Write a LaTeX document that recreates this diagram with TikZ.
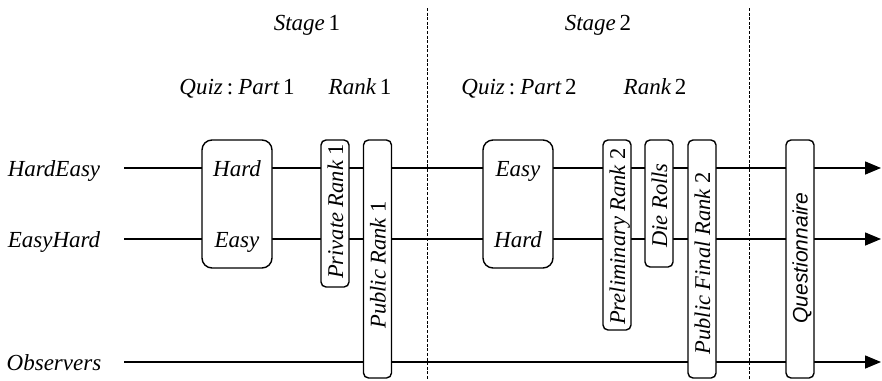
\documentclass[tikz,border=0pt]{standalone}
\usepackage{fontspec}
\setmainfont{Liberation Serif}
\newfontfamily\qfont{Liberation Sans}
\usetikzlibrary{arrows.meta}
\begin{document}
\begin{tikzpicture}[x=1pt,y=-1pt,
  every node/.style={inner sep=0pt,outer sep=0pt},
  lbl/.style={anchor=base,font=\fontsize{23}{27}\selectfont\itshape},
  vlbl/.style={anchor=base,rotate=90,font=\fontsize{22.5}{26}\selectfont\itshape},
  bigbox/.style={draw,line width=1.4pt,fill=white,rounded corners=10pt,minimum width=70pt,minimum height=128pt},
  thinbox/.style={draw,line width=1.4pt,fill=white,rounded corners=5pt,minimum width=28pt},
  arrowtrack/.style={line width=1.5pt,-{Triangle[length=16pt,width=13pt]}},
  divider/.style={line width=1pt,dash pattern=on 3pt off 1.6pt}
]
\useasboundingbox (0,0) rectangle (882,380);

% divider coordinates
\coordinate (d1t) at (427,8);
\coordinate (d1b) at (427,380);
\coordinate (d2t) at (749,8);
\coordinate (d2b) at (749,380);
\draw[divider] (d1t) -- (d1b);
\draw[divider] (d2t) -- (d2b);

% header labels
\node[lbl] (st1) at (307,30) {Stage\,\upshape 1};
\node[lbl] (st2) at (598,30) {Stage\,\upshape 2};
\node[lbl] (qp1) at (237,94) {Quiz\kern4pt{\upshape:}\kern5pt Part\,\upshape 1};
\node[lbl] (rk1) at (360,94) {Rank\,\upshape 1};
\node[lbl] (qp2) at (519,94) {Quiz\kern4pt{\upshape:}\kern5pt Part\,\upshape 2};
\node[lbl] (rk2) at (655,94) {Rank\,\upshape 2};

% row labels
\node[lbl] (he) at (54,176) {HardEasy};
\node[lbl] (eh) at (54,247) {EasyHard};
\node[lbl] (ob) at (54,370) {Observers};

% track coordinates
\coordinate (s1) at (124,168);
\coordinate (e1) at (881,168);
\coordinate (s2) at (124,239);
\coordinate (e2) at (881,239);
\coordinate (s3) at (124,362);
\coordinate (e3) at (881,362);
\draw[arrowtrack] (s1) -- (e1);
\draw[arrowtrack] (s2) -- (e2);
\draw[arrowtrack] (s3) -- (e3);

% boxes
\node[bigbox] (q1) at (237,204) {};
\node[bigbox] (q2) at (518,204) {};
\node[thinbox,minimum height=147pt] (pr1) at (335,213.5) {};
\node[thinbox,minimum height=238pt] (pub1) at (377.5,259) {};
\node[thinbox,minimum height=190pt] (pre2) at (617,235) {};
\node[thinbox,minimum height=127pt] (die) at (659,203.5) {};
\node[thinbox,minimum height=238pt] (pub2) at (702,259) {};
\node[thinbox,minimum height=238pt] (qu) at (800,259) {};

% box texts
\node[lbl] (t1) at (237,176) {Hard};
\node[lbl] (t2) at (237,247) {Easy};
\node[lbl] (t3) at (518,176) {Easy};
\node[lbl] (t4) at (518,247) {Hard};
\node[vlbl] (t5) at (343,211.5) {Private Rank {\upshape 1}};
\node[vlbl] (t6) at (385.5,265) {Public Rank {\upshape 1}};
\node[vlbl] (t7) at (625,236.5) {Preliminary Rank {\upshape 2}};
\node[vlbl] (t8) at (667,205.5) {Die Rolls};
\node[vlbl] (t9) at (710,263.5) {Public Final Rank {\upshape 2}};
\node[anchor=base,rotate=90,font=\fontsize{21}{25}\qfont\itshape] (t10) at (807.5,258) {Questionnaire};
\end{tikzpicture}
\end{document}
